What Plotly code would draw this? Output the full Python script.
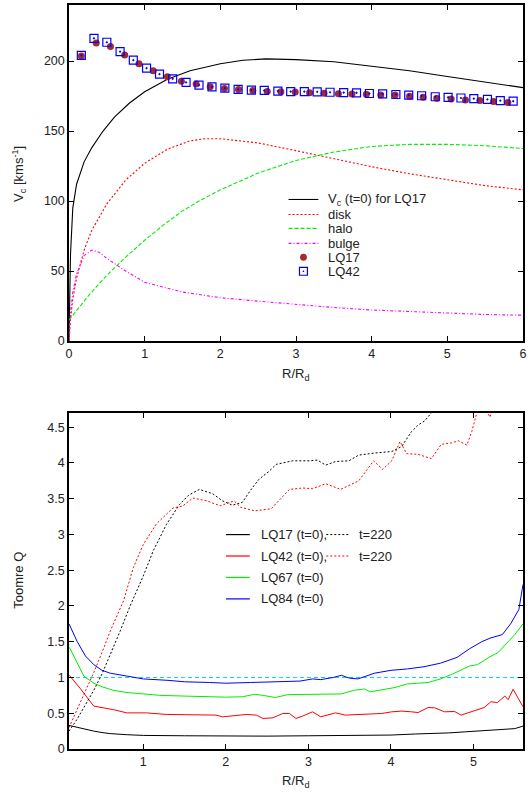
import plotly.graph_objects as go

# ---------------- top panel: rotation curve ----------------
R_vc = [0.0, 0.01, 0.02, 0.05, 0.1, 0.2, 0.3, 0.45, 0.6, 0.8, 1.0, 1.3, 1.6, 2.0, 2.3, 2.6, 3.0, 3.5, 4.0, 4.5, 5.0, 5.5, 6.0]
V_vc = [0, 40, 62, 95, 112, 128, 138, 150, 160, 170, 178, 187, 193, 198, 200.5, 201.5, 201, 199.5, 196.5, 193, 189, 185, 181]

R_disk = [0, 0.02, 0.05, 0.1, 0.2, 0.3, 0.5, 0.75, 1.0, 1.3, 1.6, 1.8, 2.0, 2.5, 3.0, 3.5, 4.0, 4.5, 5.0, 5.5, 6.0]
V_disk = [0, 15, 30, 45, 65, 79, 98, 115, 127, 137, 143, 144.5, 144.5, 141.5, 136, 130, 124.5, 119.5, 115, 111, 108]

R_halo = [0, 0.1, 0.25, 0.5, 0.75, 1.0, 1.25, 1.5, 1.75, 2.0, 2.5, 3.0, 3.5, 4.0, 4.5, 5.0, 5.5, 6.0]
V_halo = [15, 22, 32, 47, 60, 72, 83, 93, 101, 108, 120, 129, 135, 139, 140.5, 140.5, 139.5, 137.5]

R_bulge = [0, 0.02, 0.05, 0.1, 0.2, 0.3, 0.4, 0.5, 0.75, 1.0, 1.5, 2.0, 2.5, 3.0, 3.5, 4.0, 4.5, 5.0, 5.5, 6.0]
V_bulge = [5, 20, 35, 48, 61, 65, 63.5, 59, 50, 42, 35, 31, 28.5, 26, 24, 22.2, 21, 20, 19, 18.5]

R_lq17 = [0.163, 0.36, 0.548, 0.736, 0.925, 1.113, 1.30, 1.485, 1.68, 1.866, 2.055, 2.24, 2.43, 2.62, 2.80,
          2.99, 3.18, 3.37, 3.56, 3.74, 3.93, 4.12, 4.31, 4.50, 4.68, 4.86, 5.05, 5.24, 5.43, 5.61, 5.80]
V_lq17 = [203.6, 212.9, 210.3, 204.3, 198.0, 193.0, 188.7, 185.6, 183.5, 181.6, 180.4, 179.7, 179.0, 178.3, 178.0,
          177.8, 177.3, 177.0, 176.6, 176.4, 176.2, 175.7, 175.7, 174.8, 174.1, 173.4, 172.9, 172.2, 171.8, 171.1, 170.4]

R_lq42 = [0.163, 0.33, 0.50, 0.675, 0.85, 1.025, 1.196, 1.37, 1.547, 1.718, 1.89, 2.06, 2.235, 2.41, 2.58, 2.76, 2.93,
          3.11, 3.28, 3.45, 3.63, 3.80, 3.97, 4.145, 4.32, 4.49, 4.66, 4.84, 5.01, 5.18, 5.35, 5.53, 5.70, 5.87]
V_lq42 = [204.0, 216.2, 213.4, 206.7, 200.6, 194.9, 190.6, 187.3, 184.7, 182.8, 181.6, 180.6, 179.7, 179.2, 179.0, 178.5, 178.2,
          178.2, 178.0, 177.7, 177.5, 177.3, 176.8, 176.6, 176.1, 175.7, 175.2, 174.5, 174.1, 173.6, 173.1, 172.6, 171.7, 171.3]

top_labels = ["V<sub>c</sub> (t=0) for LQ17", "disk", "halo", "bulge", "LQ17", "LQ42"]

# ---------------- bottom panel: Toomre Q ----------------
R_q17 = [0.1, 0.2, 0.3, 0.4, 0.5, 0.6, 0.8, 1.0, 1.5, 2.0, 2.5, 3.0, 3.5, 4.0, 4.3, 4.5, 4.7, 4.9, 5.1, 5.3, 5.5, 5.6]
Q_q17 = [0.33, 0.30, 0.27, 0.25, 0.23, 0.215, 0.20, 0.19, 0.185, 0.18, 0.18, 0.185, 0.19, 0.195, 0.21, 0.215, 0.225, 0.24, 0.255, 0.26, 0.285, 0.32]

R_q42 = [0.105, 0.237, 0.40, 0.64, 0.80, 1.04, 1.28, 1.52, 1.88, 1.96, 2.25, 2.37, 2.45, 2.57, 2.69, 2.77, 2.85, 2.93,
         3.05, 3.15, 3.25, 3.33, 3.45, 3.69, 3.89, 4.01, 4.13, 4.25, 4.33, 4.45, 4.53, 4.65, 4.77, 4.85, 4.93, 5.05,
         5.13, 5.21, 5.29, 5.38, 5.42, 5.48, 5.6]
Q_q42 = [1.03, 0.845, 0.60, 0.55, 0.505, 0.505, 0.483, 0.483, 0.474, 0.45, 0.483, 0.474, 0.427, 0.436, 0.497, 0.497, 0.427, 0.46,
         0.52, 0.45, 0.483, 0.505, 0.474, 0.488, 0.497, 0.52, 0.53, 0.52, 0.51, 0.58, 0.576, 0.52, 0.525, 0.474, 0.505, 0.55,
         0.58, 0.66, 0.65, 0.74, 0.69, 0.835, 0.59]

R_q67 = [0.105, 0.2, 0.28, 0.4, 0.5, 0.64, 0.8, 1.0, 1.2, 1.5, 1.8, 2.0, 2.2, 2.35, 2.45, 2.6, 2.75, 3.0, 3.2, 3.4,
         3.55, 3.68, 3.75, 3.9, 4.05, 4.2, 4.45, 4.6, 4.75, 4.95, 5.05, 5.2, 5.3, 5.42, 5.5, 5.6]
Q_q67 = [1.42, 1.2, 1.02, 0.92, 0.87, 0.82, 0.79, 0.77, 0.75, 0.74, 0.73, 0.725, 0.73, 0.765, 0.75, 0.72, 0.76, 0.765, 0.775, 0.77,
         0.82, 0.84, 0.80, 0.83, 0.86, 0.91, 0.93, 0.98, 1.05, 1.16, 1.18, 1.29, 1.35, 1.5, 1.6, 1.75]

R_q84 = [0.1, 0.2, 0.3, 0.4, 0.5, 0.6, 0.8, 1.0, 1.3, 1.5, 1.8, 2.0, 2.3, 2.6, 2.9, 3.05, 3.15, 3.3, 3.4, 3.5, 3.6,
         3.8, 4.0, 4.2, 4.4, 4.6, 4.8, 4.95, 5.1, 5.2, 5.35, 5.45, 5.55, 5.6]
Q_q84 = [1.75, 1.5, 1.3, 1.18, 1.1, 1.06, 1.02, 0.98, 0.96, 0.94, 0.93, 0.92, 0.93, 0.94, 0.95, 0.98, 0.97, 1.0, 1.03, 0.99, 0.98,
         1.06, 1.1, 1.12, 1.15, 1.2, 1.28, 1.4, 1.5, 1.55, 1.6, 1.75, 1.95, 2.3]

R_q17_220 = [0.1, 0.2, 0.3, 0.4, 0.5, 0.6, 0.72, 0.84, 1.0, 1.12, 1.28, 1.44, 1.55, 1.68, 1.84, 1.96, 2.08, 2.2, 2.3, 2.4,
             2.52, 2.61, 2.81, 3.01, 3.11, 3.21, 3.33, 3.49, 3.61, 3.81, 4.01, 4.13, 4.25, 4.33, 4.41, 4.49, 4.6]
Q_q17_220 = [0.25, 0.42, 0.62, 0.82, 1.05, 1.32, 1.65, 2.0, 2.42, 2.77, 3.14, 3.42, 3.55, 3.63, 3.57, 3.47, 3.41, 3.45, 3.62, 3.77,
             3.88, 3.98, 4.03, 4.03, 4.04, 3.97, 4.02, 4.03, 4.11, 4.14, 4.16, 4.23, 4.44, 4.53, 4.59, 4.70, 4.85]

R_q42_220 = [0.1, 0.2, 0.3, 0.4, 0.5, 0.6, 0.76, 0.88, 1.0, 1.16, 1.36, 1.48, 1.6, 1.77, 1.93, 2.1, 2.18, 2.35, 2.55, 2.69,
             2.77, 2.93, 3.05, 3.21, 3.39, 3.61, 3.79, 3.9, 4.01, 4.11, 4.19, 4.33, 4.49, 4.61, 4.73, 4.82, 4.92, 4.98,
             5.04, 5.1, 5.15, 5.2, 5.25, 5.3]
Q_q42_220 = [0.30, 0.55, 0.80, 1.07, 1.35, 1.65, 2.07, 2.54, 2.86, 3.15, 3.37, 3.40, 3.51, 3.47, 3.40, 3.47, 3.38, 3.33, 3.36, 3.54,
             3.63, 3.65, 3.64, 3.71, 3.63, 3.75, 4.03, 3.91, 4.03, 4.30, 4.13, 4.12, 4.06, 4.26, 4.28, 4.31, 4.25, 4.44,
             4.70, 4.90, 4.75, 4.64, 4.80, 5.00]

Q_ref = 1.0

bottom_labels = ["LQ17 (t=0),", "LQ42 (t=0),", "LQ67 (t=0)", "LQ84 (t=0)"]
bottom_labels_220 = ["t=220", "t=220"]

# ---------------- figure ----------------
W, H = 530, 793
ML, MR, MT, MB = 69, 4, 3, 44
PW, PH = W - ML - MR, H - MT - MB


def pxx(x):
    return (x - ML) / PW


def pxy(y):
    return (H - MB - y) / PH


FONT = "Liberation Sans, Arial, Helvetica, sans-serif"
RED, GREEN, BLUE, MAG, CYAN, BROWN = "#ff0000", "#00ee00", "#0000ff", "#ff00ff", "#00dddd", "#a52a2a"

fig = go.Figure()


def add(x, y, color, dash="solid", width=1.0, xa="x", ya="y"):
    fig.add_trace(go.Scatter(x=x, y=y, mode="lines", line=dict(color=color, dash=dash, width=width),
                             xaxis=xa, yaxis=ya, showlegend=False, hoverinfo="skip"))


# top panel curves
add(R_vc, V_vc, "black", "solid", 1.1)
add(R_disk, V_disk, RED, "2px,2px", 1.1)
add(R_halo, V_halo, GREEN, "4px,2px", 1.1)
add(R_bulge, V_bulge, MAG, "3px,2px,1px,2px", 1.1)
fig.add_trace(go.Scatter(x=R_lq17, y=V_lq17, mode="markers", xaxis="x", yaxis="y", showlegend=False,
                         marker=dict(symbol="circle", size=7, color=BROWN, line=dict(width=0))))
fig.add_trace(go.Scatter(x=R_lq42, y=V_lq42, mode="markers", xaxis="x", yaxis="y", showlegend=False,
                         marker=dict(symbol="square-open-dot", size=8, color=BLUE, line=dict(width=1.2, color=BLUE))))

# bottom panel curves
add([0.1, 5.6], [Q_ref, Q_ref], CYAN, "4px,3px", 1.0, "x2", "y2")
add(R_q17, Q_q17, "black", "solid", 1.0, "x2", "y2")
add(R_q42, Q_q42, RED, "solid", 1.0, "x2", "y2")
add(R_q67, Q_q67, GREEN, "solid", 1.0, "x2", "y2")
add(R_q84, Q_q84, BLUE, "solid", 1.0, "x2", "y2")
add(R_q17_220, Q_q17_220, "black", "2px,2px", 1.0, "x2", "y2")
add(R_q42_220, Q_q42_220, RED, "2px,2px", 1.0, "x2", "y2")

axis_common = dict(showline=True, linecolor="black", linewidth=1.5, mirror="ticks", ticks="inside",
                   ticklen=5, tickwidth=1, tickcolor="black", showgrid=False, zeroline=False,
                   tickfont=dict(family=FONT, size=12.5, color="#222"))

top_dom = [pxy(340), 1.0]
bot_dom = [0.0, pxy(412)]

fig.update_layout(
    width=W, height=H, margin=dict(l=ML, r=MR, t=MT, b=MB),
    paper_bgcolor="white", plot_bgcolor="white", showlegend=False,
    xaxis=dict(axis_common, range=[0, 6], dtick=1, anchor="y", domain=[0, 1]),
    yaxis=dict(axis_common, range=[0, 240], tickvals=[0, 50, 100, 150, 200], anchor="x", domain=top_dom),
    xaxis2=dict(axis_common, range=[0.1, 5.6], tickvals=[1, 2, 3, 4, 5], anchor="y2", domain=[0, 1]),
    yaxis2=dict(axis_common, range=[0, 4.7], tickvals=[0, 0.5, 1, 1.5, 2, 2.5, 3, 3.5, 4, 4.5],
                ticktext=["0", "0.5", "1", "1.5", "2", "2.5", "3", "3.5", "4", "4.5"], anchor="x2", domain=bot_dom),
)

shapes = []
annotations = []


def text(x, y, s, size=13, angle=0, xanchor="left"):
    annotations.append(dict(x=pxx(x), y=pxy(y), xref="paper", yref="paper", text=s, showarrow=False,
                            xanchor=xanchor, yanchor="middle", textangle=angle,
                            font=dict(family=FONT, size=size, color="#222")))


def seg(x0, x1, y, color, dash="solid", width=1.1):
    shapes.append(dict(type="line", xref="paper", yref="paper", x0=pxx(x0), x1=pxx(x1), y0=pxy(y), y1=pxy(y),
                       line=dict(color=color, dash=dash, width=width)))


# axis titles
text(18, 172, "V<sub>c</sub> [kms<sup>-1</sup>]", 13, -90, "center")
text(297, 373, "R/R<sub>d</sub>", 13, 0, "center")
text(18, 580, "Toomre Q", 13, -90, "center")
text(297, 782, "R/R<sub>d</sub>", 13, 0, "center")

# top legend
rows_top = [198, 213, 227, 242, 256, 270]
styles_top = [("black", "solid"), (RED, "2px,2px"), (GREEN, "4px,2px"), (MAG, "3px,2px,1px,2px")]
for i, (c, d) in enumerate(styles_top):
    seg(290, 320, rows_top[i], c, d)
for i, lab in enumerate(top_labels):
    text(328, rows_top[i], lab, 13)
cx, cy = 305, rows_top[4]
shapes.append(dict(type="circle", xref="paper", yref="paper", x0=pxx(cx - 3.5), x1=pxx(cx + 3.5),
                   y0=pxy(cy + 3.5), y1=pxy(cy - 3.5), fillcolor=BROWN, line=dict(width=0)))
sx, sy = 305, rows_top[5]
shapes.append(dict(type="rect", xref="paper", yref="paper", x0=pxx(sx - 4), x1=pxx(sx + 4),
                   y0=pxy(sy + 4), y1=pxy(sy - 4), line=dict(color=BLUE, width=1.2)))
shapes.append(dict(type="rect", xref="paper", yref="paper", x0=pxx(sx - 0.7), x1=pxx(sx + 0.7),
                   y0=pxy(sy + 0.7), y1=pxy(sy - 0.7), fillcolor=BLUE, line=dict(width=0)))

# bottom legend
rows_bot = [534, 555.5, 577, 598.5]
cols_bot = ["black", RED, GREEN, BLUE]
for i, lab in enumerate(bottom_labels):
    seg(227, 251, rows_bot[i], cols_bot[i], "solid", 1.2)
    text(260, rows_bot[i], lab, 13)
for i, lab in enumerate(bottom_labels_220):
    seg(328, 351, rows_bot[i], cols_bot[i], "2px,2px", 1.0)
    text(359, rows_bot[i], lab, 13)

fig.update_layout(shapes=shapes, annotations=annotations)

fig.write_html("out.html", config={"displayModeBar": False},
               post_script="document.body.style.margin='0';document.body.style.padding='0';")
